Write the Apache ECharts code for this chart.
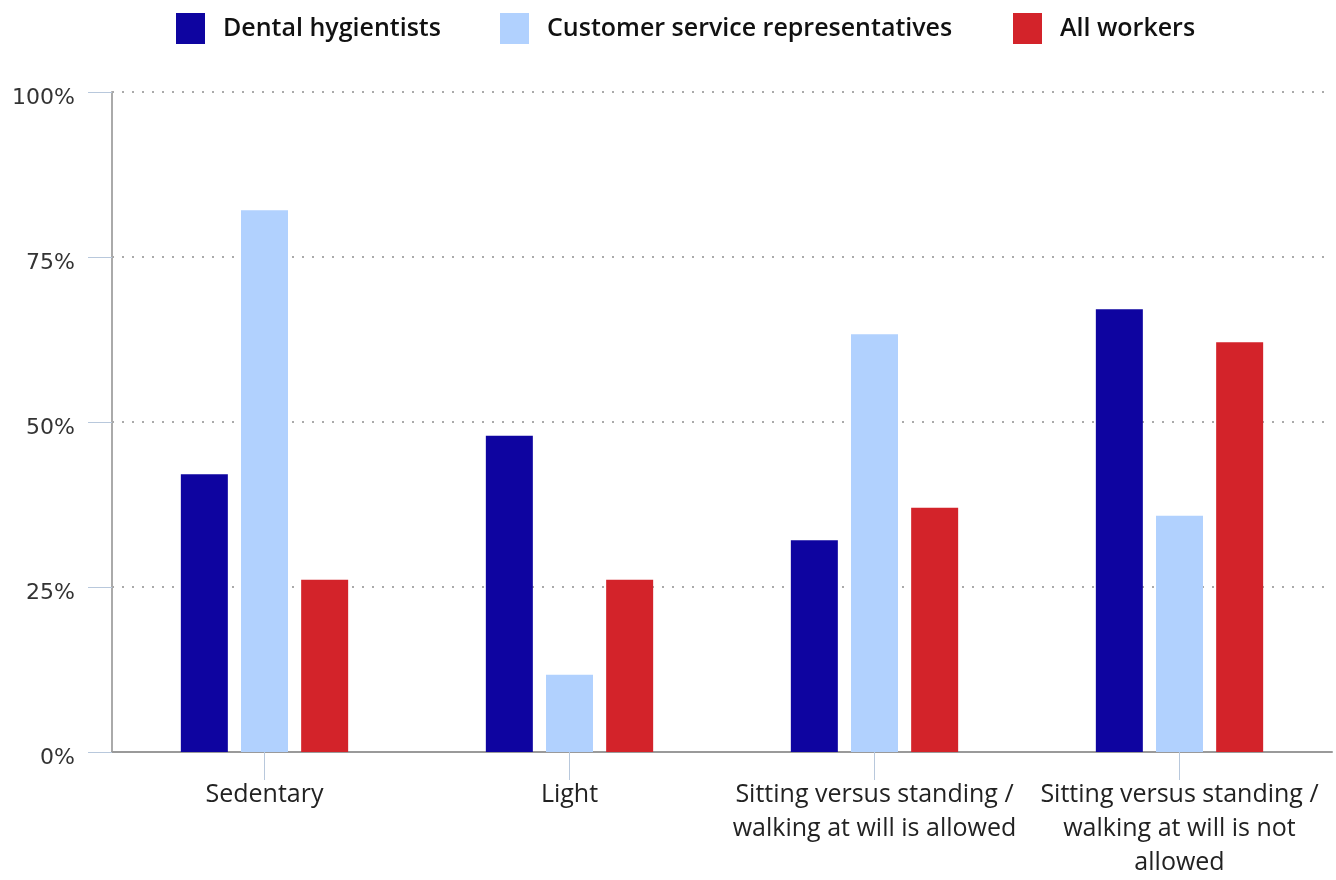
<!DOCTYPE html>
<html>
<head>
<meta charset="utf-8">
<script src="https://cdn.jsdelivr.net/npm/echarts@6/dist/echarts.min.js"></script>
<style>html,body{margin:0;padding:0;background:#fff;}#c{width:1336px;height:880px;}</style>
</head>
<body>
<div id="c"></div>
<script>
const categories = ["Sedentary", "Light", "Sitting versus standing /\nwalking at will is allowed", "Sitting versus standing /\nwalking at will is not\nallowed"];
const seriesNames = ["Dental hygientists", "Customer service representatives", "All workers"];
const dentalHygienists = [42.1, 47.9, 32.1, 67.1];
const customerService = [82.1, 11.7, 63.3, 35.8];
const allWorkers = [26.1, 26.1, 37.0, 62.1];
const yTicks = [0, 25, 50, 75, 100];
const colors = ["#0e04a0", "#b1d1fe", "#d3232a"];

const chart = echarts.init(document.getElementById('c'), null, {renderer: 'canvas'});
const legendLefts = [171, 495, 1008];
const legends = seriesNames.map((n, i) => ({
  data: [n], left: legendLefts[i], top: 8, itemWidth: 29, itemHeight: 31,
  icon: 'rect',
  textStyle: {fontFamily: 'Open Sans', fontWeight: 600, fontSize: 25, color: '#111', padding: [0, 0, 0, 13]}
}));
const values = [dentalHygienists, customerService, allWorkers];
chart.setOption({
  animation: false,
  legend: legends,
  grid: {left: 112, right: 4, top: 92, bottom: 128},
  xAxis: {
    type: 'category', data: categories,
    axisLine: {lineStyle: {color: '#9a9a9a', width: 2}},
    axisTick: {show: true, alignWithLabel: true, length: 28, lineStyle: {color: '#b8c8dc'}},
    axisLabel: {fontFamily: 'Open Sans', fontSize: 25, color: '#222', lineHeight: 34, margin: 26, interval: 0}
  },
  yAxis: {
    type: 'value', min: 0, max: 100, interval: 25,
    axisLine: {show: true, lineStyle: {color: '#aaaaaa', width: 2}},
    axisTick: {show: true, length: 24, lineStyle: {color: '#b8c8dc'}},
    axisLabel: {formatter: v => yTicks.includes(v) ? v + '%' : '', fontFamily: 'DejaVu Sans', fontSize: 22, color: '#333', margin: 37, verticalAlign: 'top', lineHeight: 12},
    splitLine: {show: true, lineStyle: {color: '#aaaaaa', type: [2, 8], width: 2}}
  },
  series: seriesNames.map((n, i) => ({
    name: n, type: 'bar', data: values[i], barWidth: 47, barGap: '28%',
    itemStyle: {color: colors[i]}
  }))
});
</script>
</body>
</html>
